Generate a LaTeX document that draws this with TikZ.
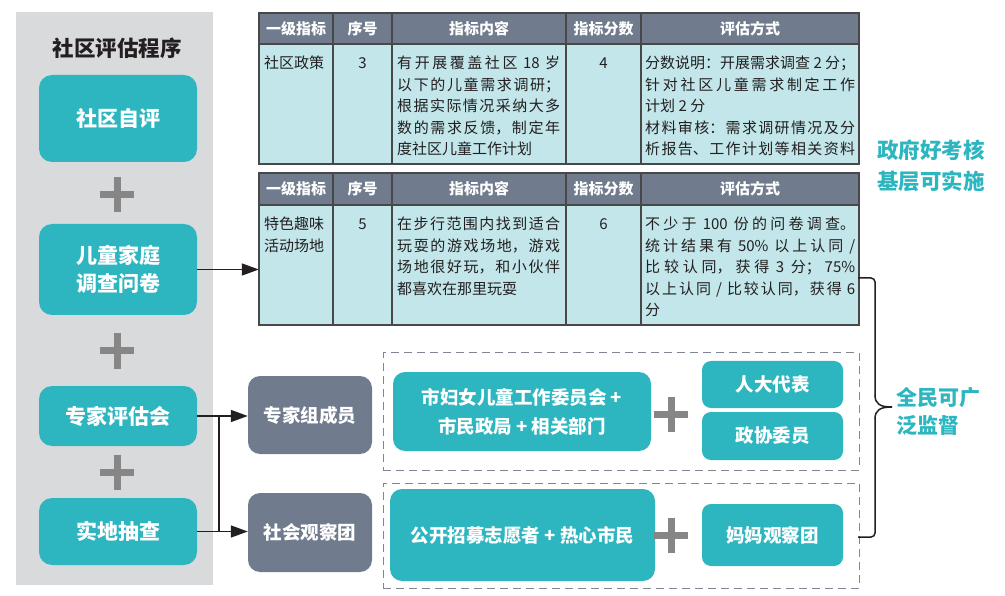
\documentclass[tikz,border=0pt]{standalone}
\usepackage{fontspec}
\setmainfont{Noto Sans CJK SC}
\usetikzlibrary{arrows.meta,calc}
\XeTeXlinebreaklocale "zh"
\XeTeXlinebreakskip=0pt plus 2pt
\definecolor{mteal}{RGB}{45,182,192}
\definecolor{mpanel}{RGB}{217,218,220}
\definecolor{mslate}{RGB}{112,123,141}
\definecolor{mhdr}{RGB}{112,123,141}
\definecolor{mcell}{RGB}{194,230,234}
\definecolor{mplus}{RGB}{134,134,134}
\definecolor{mdark}{RGB}{35,31,32}
\definecolor{mdash}{RGB}{128,134,148}
\definecolor{mline}{RGB}{72,72,72}
\newcommand\mktable[3]{%
  \fill[mhdr] (259,#1) rectangle (859,#2);
  \fill[mcell] (259,#2) rectangle (859,#3);
  \draw[tline] (259,#1) rectangle (859,#3);
  \draw[tline] (259,#2) -- (859,#2);
  \foreach \xx in {333,392,566,641} {\draw[tline] (\xx,#1) -- (\xx,#3);}
}
\newcommand\mkheader[2]{%
  \node[hdrt] (h#2a) at (296,#1) {一级指标};
  \node[hdrt] (h#2b) at (362.5,#1) {序号};
  \node[hdrt] (h#2c) at (479,#1) {指标内容};
  \node[hdrt] (h#2d) at (603.5,#1) {指标分数};
  \node[hdrt] (h#2e) at (750,#1) {评估方式};
}
\begin{document}
\begin{tikzpicture}[x=1pt,y=-1pt,
  lbox/.style={fill=mteal, rounded corners=13pt, text=white, align=center, inner sep=0pt, font=\bfseries\fontsize{21}{28}\selectfont},
  sbox/.style={fill=mslate, rounded corners=12pt, text=white, align=center, inner sep=0pt, font=\bfseries\fontsize{18.5}{29}\selectfont},
  cbox/.style={fill=mteal, rounded corners=12pt, text=white, align=center, inner sep=0pt, font=\bfseries\fontsize{18.5}{29}\selectfont},
  kbox/.style={fill=mteal, rounded corners=9pt, text=white, align=center, inner sep=0pt, font=\bfseries\fontsize{18.5}{29}\selectfont},
  dbox/.style={draw=mdash, dash pattern=on 8pt off 5pt, line width=1pt, inner sep=0pt},
  arr/.style={draw=mdark, line width=1.5pt, -{Triangle[length=17pt,width=12pt]}},
  tline/.style={draw=mline, line width=1.2pt},
  hdrt/.style={text=white, font=\bfseries\fontsize{15}{15}\selectfont, inner sep=0pt},
  cellt/.style={text=mdark, font=\fontsize{15}{21.5}\selectfont, inner sep=0pt, anchor=north west},
  numt/.style={text=mdark, font=\fontsize{15}{21.5}\selectfont, inner sep=0pt},
  plussign/.pic={\draw[mplus, line width=7pt] (-17,0) -- (17,0) (0,-17.5) -- (0,17.5);}
]
\useasboundingbox (0,0) rectangle (1005,596);
% left panel
\node[fill=mpanel, minimum width=197pt, minimum height=573pt, inner sep=0pt] (panel) at (114.5,298.5) {};
\node[text=mdark, font=\bfseries\fontsize{21.5}{21.5}\selectfont, inner sep=0pt] (title) at (117,48) {社区评估程序};
\node[lbox, minimum width=158pt, minimum height=87pt] (b1) at (118,118.5) {社区自评};
\node[lbox, minimum width=158pt, minimum height=91pt] (b2) at (118,269.5) {儿童家庭\\调查问卷};
\node[lbox, minimum width=158pt, minimum height=60pt] (b3) at (118,416) {专家评估会};
\node[lbox, minimum width=158pt, minimum height=67pt] (b4) at (118,531.5) {实地抽查};
\pic at (117,195) {plussign};
\pic at (117,351) {plussign};
\pic at (117,472) {plussign};
% tables
\node[minimum width=600pt, minimum height=151pt, inner sep=0pt] (tab1) at (559,88.5) {};
\node[minimum width=600pt, minimum height=152pt, inner sep=0pt] (tab2) at (559,249) {};
\mktable{13}{44}{164}
\mkheader{28.5}{1}
\mktable{173}{205}{325}
\mkheader{189}{2}
\node[cellt] (a11) at (264,56) {社区政策};
\node[numt] (a12) at (362.5,63) {3};
\node[cellt, text width=163pt, align=justify] (a13) at (397,56) {有开展覆盖社区 18 岁\linebreak 以下的儿童需求调研；\linebreak 根据实际情况采纳大多\linebreak 数的需求反馈，制定年\linebreak 度社区儿童工作计划};
\node[numt] (a14) at (603.5,63) {4};
\node[cellt, text width=210pt, align=justify] (a15) at (645,56) {分数说明：开展需求调查 2 分；\linebreak 针对社区儿童需求制定工作\linebreak 计划 2 分\\{\parfillskip=0pt 材料审核：需求调研情况及分\linebreak 析报告、工作计划等相关资料\par}};
\node[cellt, align=left] (c11) at (264,217) {特色趣味\\活动场地};
\node[numt] (c12) at (362.5,224) {5};
\node[cellt, text width=163pt, align=justify] (c13) at (397,217) {在步行范围内找到适合\linebreak 玩耍的游戏场地，游戏\linebreak 场地很好玩，和小伙伴\linebreak 都喜欢在那里玩耍};
\node[numt] (c14) at (603.5,224) {6};
\node[cellt, text width=210pt, align=justify] (c15) at (645,217) {不少于 100 份的问卷调查。\linebreak 统计结果有 50\% 以上认同 /\linebreak 比较认同，获得 3 分；75\%\linebreak 以上认同 / 比较认同，获得 6\linebreak 分};
% middle and right boxes
\node[sbox, minimum width=124pt, minimum height=78pt] (g1) at (310,415) {专家组成员};
\node[sbox, minimum width=124pt, minimum height=79pt] (g2) at (310,532.5) {社会观察团};
\node[dbox, minimum width=476pt, minimum height=117pt] (d1) at (621,411.5) {};
\node[dbox, minimum width=476pt, minimum height=105pt] (d2) at (621,535.5) {};
\node[cbox, minimum width=258pt, minimum height=79pt] (t1) at (522,411.5) {市妇女儿童工作委员会 +\\市民政局 + 相关部门};
\node[cbox, minimum width=265pt, minimum height=92pt] (t2) at (522.5,535) {公开招募志愿者 + 热心市民};
\node[kbox, minimum width=141pt, minimum height=47pt] (s1) at (772.5,384.5) {人大代表};
\node[kbox, minimum width=141pt, minimum height=48pt] (s2) at (772.5,436) {政协委员};
\node[kbox, minimum width=141pt, minimum height=62pt] (s3) at (772.5,535) {妈妈观察团};
\pic at (671,414) {plussign};
\pic at (671,535) {plussign};
% connectors
\draw[arr] (b2.east) -- (b2.east -| tab2.west);
\draw[arr] (b3.east) -- (b3.east -| g1.west);
\draw[arr] (b4.east) -- (b4.east -| g2.west);
\draw[draw=mdark, line width=1.5pt] ($(b3.east)+(22,0)$) -- ($(b4.east)+(22,0)$);
% brace
\draw[draw=mdark, line width=1.5pt, rounded corners=4pt] (858,278) -- (875,278) -- (875,396);
\draw[draw=mdark, line width=1.5pt] (875,395) .. controls (875,404) and (880,407) .. (892,407) .. controls (880,407) and (875,410) .. (875,419);
\draw[draw=mdark, line width=1.5pt, rounded corners=4pt] (875,418) -- (875,537) -- (858,537);
% right texts
\node[text=mteal, font=\bfseries\fontsize{21.5}{31}\selectfont, align=left, inner sep=0pt, anchor=west] (r1) at (877,165.5) {政府好考核\\基层可实施};
\node[text=mteal, font=\bfseries\fontsize{21}{28}\selectfont, align=left, inner sep=0pt, anchor=west] (r2) at (896,411) {全民可广\\泛监督};
\end{tikzpicture}
\end{document}
